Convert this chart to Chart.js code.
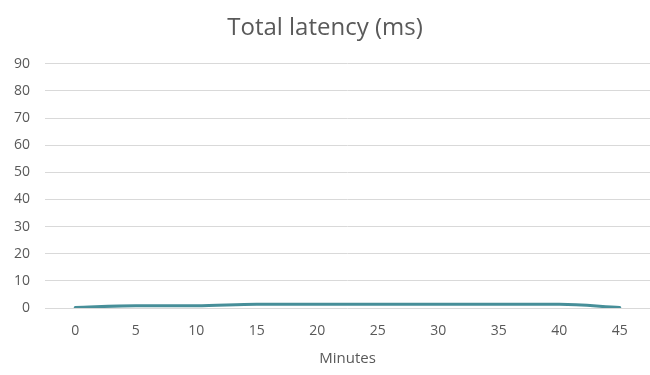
<!DOCTYPE html>
<html>
<head>
<meta charset="utf-8">
<script src="https://cdn.jsdelivr.net/npm/chart.js@4.4.1/dist/chart.umd.min.js"></script>
<style>
  html, body { margin: 0; padding: 0; background: #ffffff; }
  #wrap { width: 650px; height: 375px; }
</style>
</head>
<body>
<div id="wrap"><canvas id="c" width="650" height="375"></canvas></div>
<script>
// Minutes elapsed and total latency in milliseconds
const minutes = ['0', '5', '10', '15', '20', '25', '30', '35', '40', '45'];
const latencyMs = [0.2, 0.8, 0.8, 1.4, 1.4, 1.4, 1.4, 1.4, 1.4, 0.2];
const yTicks = [0, 10, 20, 30, 40, 50, 60, 70, 80, 90];

const textColor = '#595959';
const fontFamily = '"Open Sans", Lato, sans-serif';

new Chart(document.getElementById('c'), {
  type: 'line',
  data: {
    labels: minutes,
    datasets: [{
      label: 'Total latency (ms)',
      data: latencyMs,
      borderColor: '#478f99',
      backgroundColor: '#478f99',
      borderWidth: 3,
      pointRadius: 0,
      cubicInterpolationMode: 'monotone',
      borderCapStyle: 'round'
    }]
  },
  options: {
    responsive: false,
    animation: false,
    layout: { padding: { left: 0, right: 0, top: 0, bottom: 0 } },
    plugins: {
      legend: { display: false },
      tooltip: { enabled: false },
      title: {
        display: true,
        text: 'Total latency (ms)',
        color: textColor,
        font: { family: fontFamily, size: 24, weight: 'normal' },
        padding: { top: 14, bottom: 21 }
      }
    },
    scales: {
      x: {
        offset: true,
        grid: { display: false, drawTicks: false },
        border: { display: false },
        ticks: {
          color: textColor,
          font: { family: fontFamily, size: 14 },
          padding: 15,
          maxRotation: 0
        },
        title: {
          display: true,
          text: 'Minutes',
          color: textColor,
          font: { family: fontFamily, size: 15 },
          padding: { top: 4, bottom: 7 }
        },
        afterFit: (s) => { s.height = 67; }
      },
      y: {
        min: 0,
        max: 90,
        afterBuildTicks: (s) => { s.ticks = yTicks.map(v => ({ value: v })); },
        grid: { color: '#d9d9d9', lineWidth: 1, drawTicks: false },
        border: { display: false },
        ticks: {
          color: textColor,
          font: { family: fontFamily, size: 14 },
          padding: 15
        },
        afterFit: (s) => { s.width = 45; }
      }
    }
  }
});
</script>
</body>
</html>
